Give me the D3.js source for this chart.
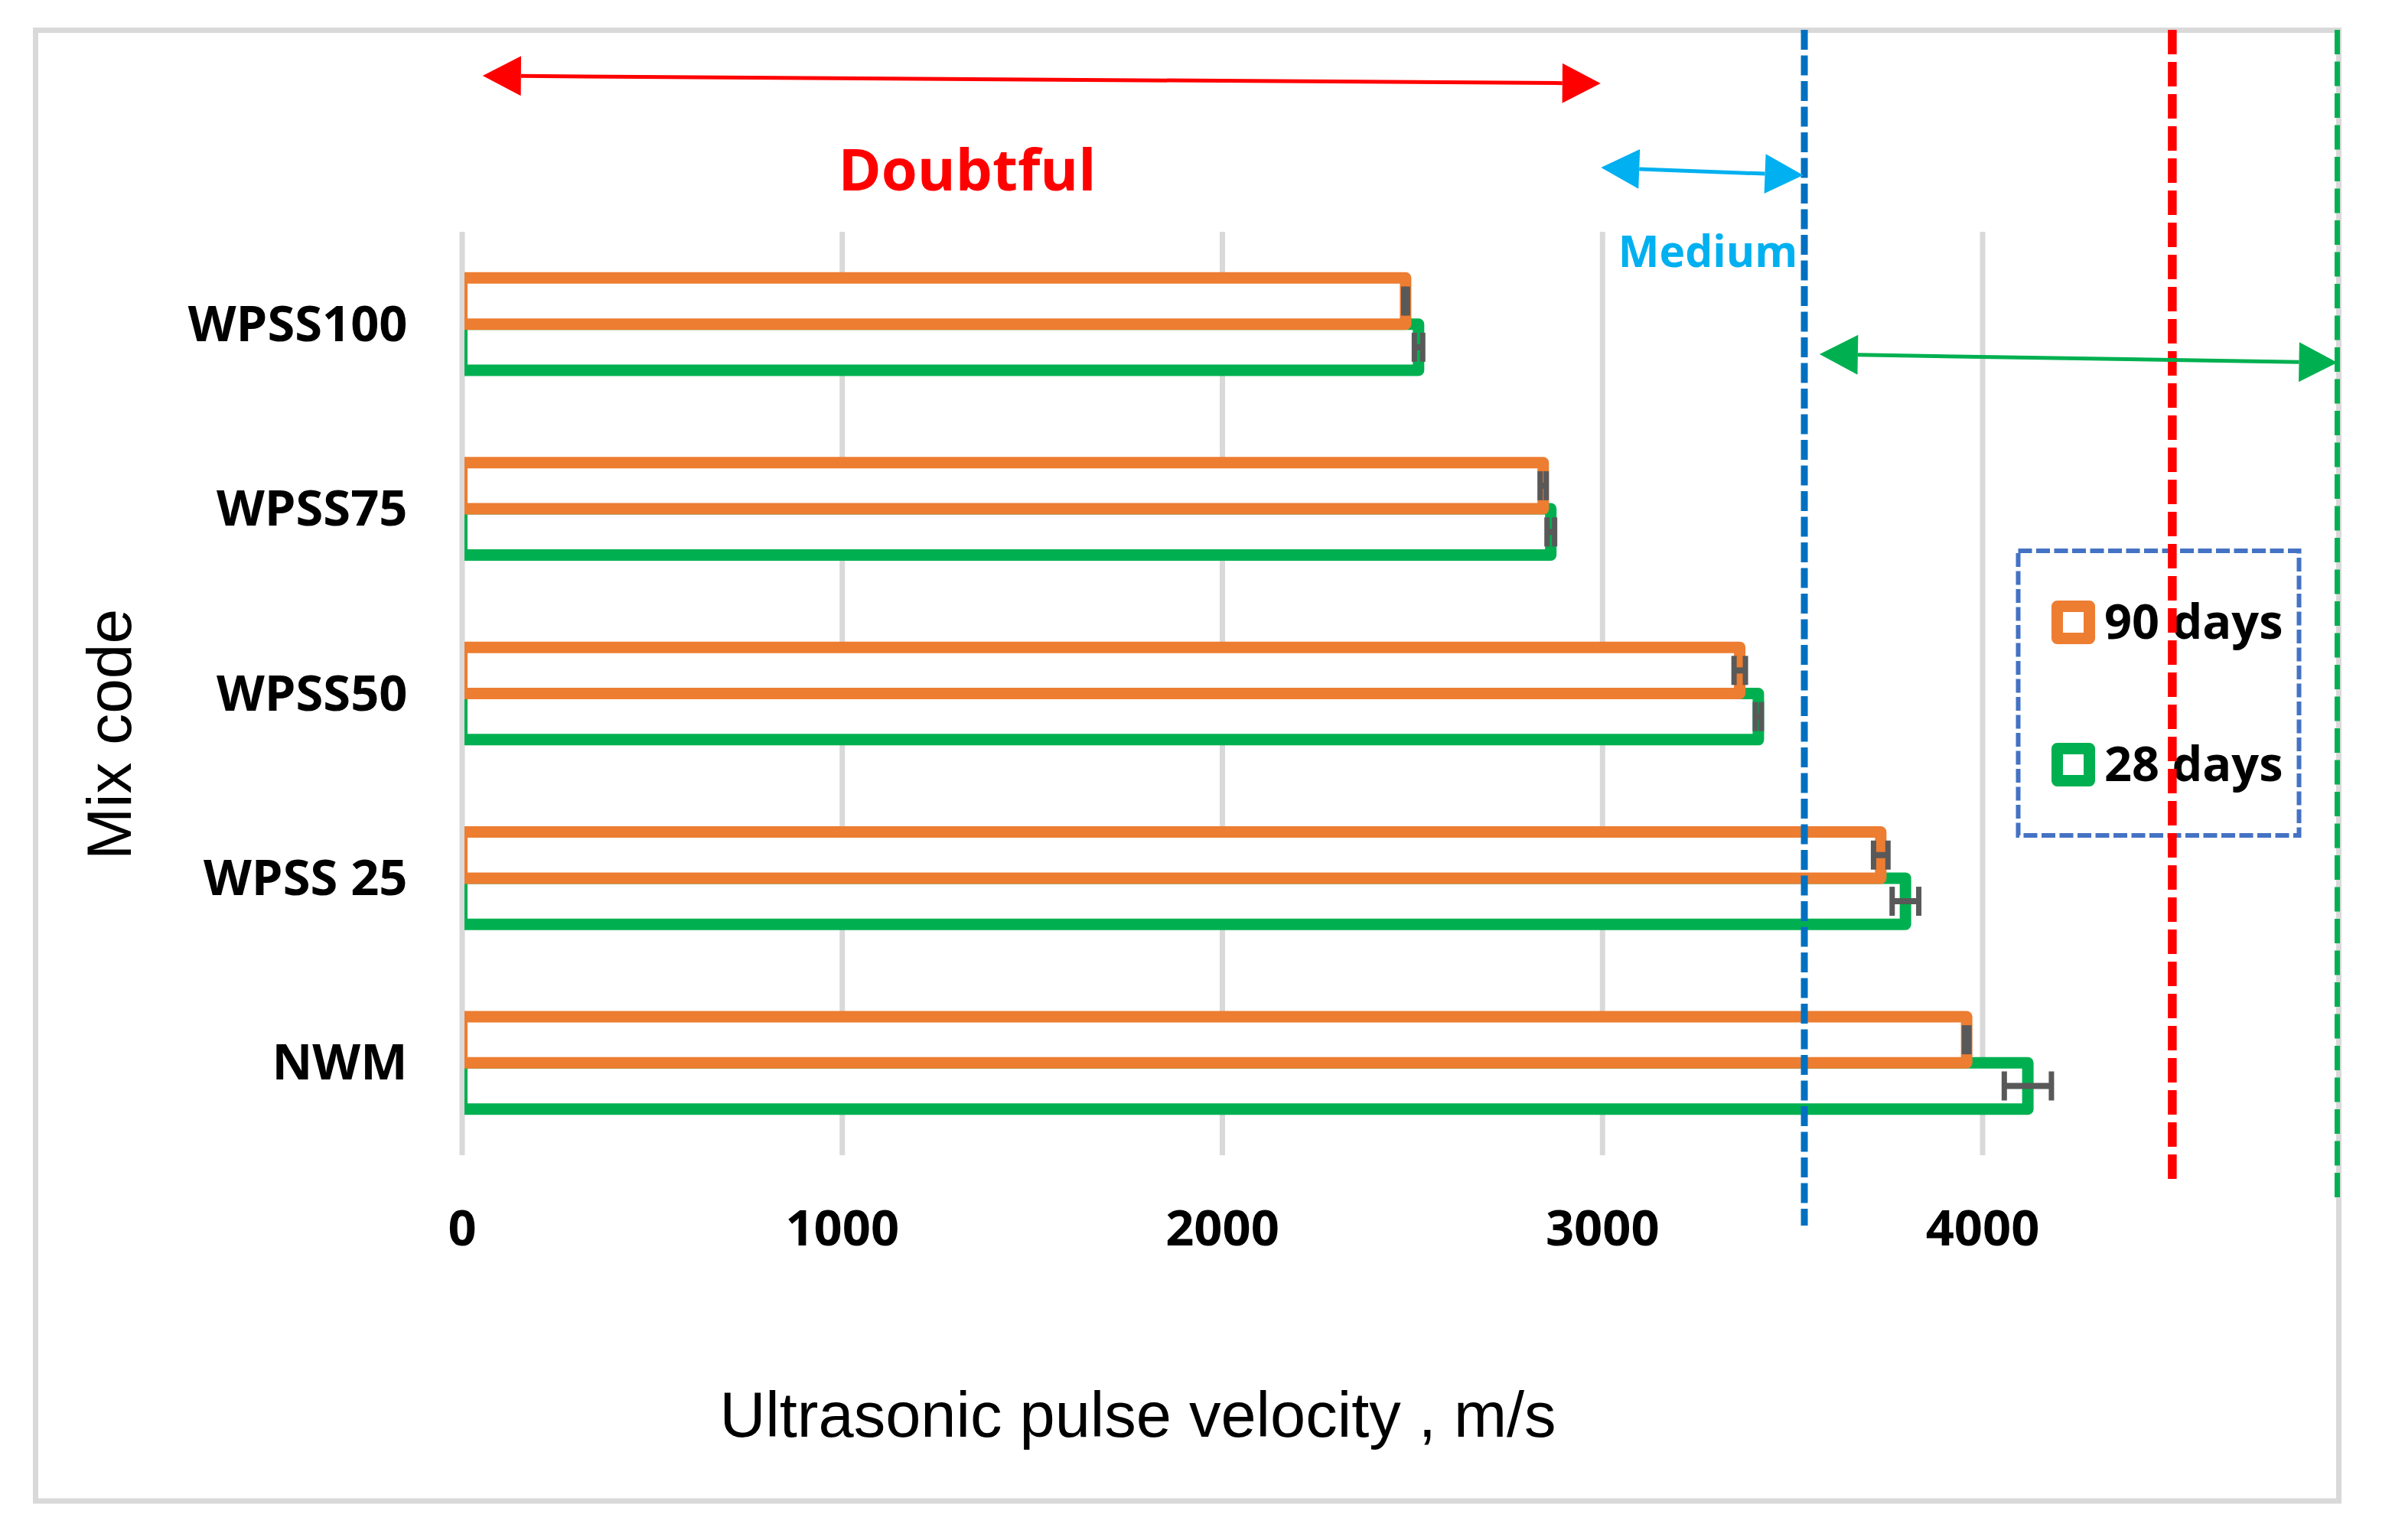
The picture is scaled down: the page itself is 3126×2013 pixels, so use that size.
<!DOCTYPE html>
<html>
<head>
<meta charset="utf-8">
<script src="https://cdn.jsdelivr.net/npm/d3@7"></script>
<style>
  html, body { margin: 0; padding: 0; background: #ffffff; }
  svg { display: block; }
</style>
</head>
<body>
<div id="chart"></div>
<script>
// ---------------- DATA ----------------
const categories = ["WPSS100", "WPSS75", "WPSS50", "WPSS 25", "NWM"];
const days90 = [2483, 2845, 3362, 3733, 3959];
const days90Err = [5, 8, 15, 19, 6];
const days28 = [2517, 2865, 3411, 3798, 4120];
const days28Err = [11, 10, 8, 35, 62];
const xTicks = [0, 1000, 2000, 3000, 4000];
const seriesNames = ["90 days", "28 days"];
const seriesColors = ["#ED7D31", "#00B050"];

// quality zones (arrows) and threshold lines, in m/s
const zoneLabels = ["Doubtful", "Medium", ""];
const zoneFrom = [55, 2997, 3572];
const zoneTo = [2996, 3529, 4934];
const zoneColors = ["#FF0000", "#00B0F0", "#00B050"];
const thresholdValues = [3532, 4500, 4934];
const thresholdColors = ["#0070C0", "#FF0000", "#00B050"];

const xTitle = "Ultrasonic pulse velocity , m/s";
const yTitle = "Mix code";

// ---------------- LAYOUT ----------------
const W = 3126, H = 2013;
const plotTop = 303, plotBottom = 1510;
const x0px = 603.5, perUnit = 0.49675;

const svg = d3.select("#chart").append("svg")
  .attr("width", W).attr("height", H)
  .attr("viewBox", `0 0 ${W} ${H}`);

// outer frame
svg.append("rect")
  .attr("x", 46.5).attr("y", 39.5)
  .attr("width", 3010).attr("height", 1922.5)
  .attr("fill", "#ffffff")
  .attr("stroke", "#D9D9D9").attr("stroke-width", 7);

const x = d3.scaleLinear().domain([0, 4500]).range([x0px, x0px + 4500 * perUnit]);
const y = d3.scaleBand().domain(categories).range([plotTop, plotBottom]).paddingInner(0).paddingOuter(0);
const bw = y.bandwidth();
const sub = d3.scaleBand().domain(seriesNames).range([bw * 0.25, bw * 0.75]).padding(0);

// gridlines
const grid = svg.append("g")
  .attr("transform", `translate(0,${plotBottom})`)
  .call(d3.axisBottom(x).tickValues(xTicks).tickSize(-(plotBottom - plotTop)).tickFormat(""));
grid.select(".domain").remove();
grid.selectAll(".tick line").attr("stroke", "#D9D9D9").attr("stroke-width", 7);

// x tick labels
const xAxis = svg.append("g")
  .attr("transform", `translate(0,${plotBottom})`)
  .call(d3.axisBottom(x).tickValues(xTicks).tickSize(0).tickFormat(d3.format("d")));
xAxis.select(".domain").remove();
xAxis.selectAll("text")
  .attr("y", 118).attr("dy", null)
  .attr("fill", "#000")
  .style("font-family", "'Open Sans', sans-serif")
  .style("font-weight", "bold")
  .style("font-size", "65px");

// y category labels
const yAxis = svg.append("g")
  .attr("transform", `translate(${x0px},0)`)
  .call(d3.axisLeft(y).tickSize(0).tickPadding(71));
yAxis.select(".domain").remove();
yAxis.selectAll("text")
  .attr("dy", "0.34em")
  .attr("fill", "#000")
  .style("font-family", "'Open Sans', sans-serif")
  .style("font-weight", "bold")
  .style("font-size", "65px");

// clip for bars (hides most of the left stroke, as in the original)
svg.append("clipPath").attr("id", "barclip")
  .append("rect")
  .attr("x", x(0) + 3.5).attr("y", 0)
  .attr("width", W).attr("height", H);

const rows = categories.map((c, i) => ({
  cat: c,
  series: [
    { name: seriesNames[0], v: days90[i], e: days90Err[i], color: seriesColors[0] },
    { name: seriesNames[1], v: days28[i], e: days28Err[i], color: seriesColors[1] }
  ]
}));

const barsG = svg.append("g").attr("clip-path", "url(#barclip)");
// draw 28 days first so 90 days sits on top
[1, 0].forEach(si => {
  barsG.selectAll(null)
    .data(rows)
    .enter().append("rect")
    .attr("x", x(0))
    .attr("y", d => y(d.cat) + sub(d.series[si].name))
    .attr("width", d => x(d.series[si].v) - x(0))
    .attr("height", sub.bandwidth())
    .attr("fill", "#ffffff")
    .attr("stroke", d => d.series[si].color)
    .attr("stroke-width", 15)
    .attr("stroke-linejoin", "round");
});

// error bars
const errG = svg.append("g");
const capLen = 38;
rows.forEach(d => {
  d.series.forEach(s => {
    const cy = y(d.cat) + sub(s.name) + sub.bandwidth() / 2;
    const xl = x(s.v - s.e), xr = x(s.v + s.e);
    errG.append("line")
      .attr("x1", xl).attr("x2", xr).attr("y1", cy).attr("y2", cy)
      .attr("stroke", "#595959").attr("stroke-width", 8);
    [xl, xr].forEach(xc => {
      errG.append("line")
        .attr("x1", xc).attr("x2", xc)
        .attr("y1", cy - capLen / 2).attr("y2", cy + capLen / 2)
        .attr("stroke", "#595959").attr("stroke-width", 7);
    });
  });
});

// legend
const lg = svg.append("g");
lg.append("rect")
  .attr("x", 2637.5).attr("y", 720).attr("width", 367).attr("height", 372)
  .attr("fill", "none").attr("stroke", "#4472C4").attr("stroke-width", 6)
  .attr("stroke-dasharray", "18 5.5");
const legendY = [813.5, 999.5];
seriesNames.forEach((n, i) => {
  lg.append("rect")
    .attr("x", 2709.5 - 21).attr("y", legendY[i] - 21)
    .attr("width", 42).attr("height", 42)
    .attr("fill", "#ffffff").attr("stroke", seriesColors[i])
    .attr("stroke-width", 15).attr("stroke-linejoin", "round");
  lg.append("text")
    .attr("x", 2750).attr("y", legendY[i] + 21.5)
    .attr("fill", "#000")
    .style("font-family", "'Open Sans', sans-serif")
    .style("font-weight", "bold")
    .style("font-size", "63px")
    .text(n);
});

// threshold dashed lines
const thrDash = ["26 7.5", "32 10", "32 9.5"];
const thrWidth = [9, 11.5, 7];
const thrEnd = [1602, 1544, 1571];
thresholdValues.forEach((v, i) => {
  svg.append("line")
    .attr("x1", x(v)).attr("x2", x(v))
    .attr("y1", 39).attr("y2", thrEnd[i])
    .attr("stroke", thresholdColors[i])
    .attr("stroke-width", thrWidth[i])
    .attr("stroke-dasharray", thrDash[i]);
});

// zone arrows
const arrowY = [[99, 109], [219, 229], [463, 474]];
function doubleArrow(g, xa, ya, xb, yb, color) {
  const L = 50, hw = 26;
  const dx = xb - xa, dy = yb - ya, len = Math.hypot(dx, dy);
  const ux = dx / len, uy = dy / len, nx = -uy, ny = ux;
  const ax = xa + ux * L, ay = ya + uy * L;
  const bx = xb - ux * L, by = yb - uy * L;
  g.append("line").attr("x1", ax).attr("y1", ay).attr("x2", bx).attr("y2", by)
    .attr("stroke", color).attr("stroke-width", 5);
  g.append("path")
    .attr("d", `M${xa},${ya}L${ax + nx * hw},${ay + ny * hw}L${ax - nx * hw},${ay - ny * hw}Z`)
    .attr("fill", color);
  g.append("path")
    .attr("d", `M${xb},${yb}L${bx + nx * hw},${by + ny * hw}L${bx - nx * hw},${by - ny * hw}Z`)
    .attr("fill", color);
}
const arrG = svg.append("g");
zoneFrom.forEach((f, i) => {
  doubleArrow(arrG, x(f), arrowY[i][0], x(zoneTo[i]), arrowY[i][1], zoneColors[i]);
});

// zone labels
svg.append("text")
  .attr("x", 1264).attr("y", 249)
  .attr("text-anchor", "middle")
  .attr("fill", zoneColors[0])
  .style("font-family", "'Open Sans', sans-serif")
  .style("font-weight", "bold")
  .style("font-size", "76px")
  .text(zoneLabels[0]);
svg.append("text")
  .attr("x", 2232).attr("y", 349)
  .attr("text-anchor", "middle")
  .attr("fill", zoneColors[1])
  .style("font-family", "'Open Sans', sans-serif")
  .style("font-weight", "bold")
  .style("font-size", "57px")
  .text(zoneLabels[1]);

// axis titles
svg.append("text")
  .attr("x", 1487).attr("y", 1878)
  .attr("text-anchor", "middle")
  .attr("fill", "#000")
  .style("font-family", "'Liberation Sans', Arial, sans-serif")
  .style("font-size", "83px")
  .text(xTitle);
svg.append("text")
  .attr("transform", "translate(171,960) rotate(-90)")
  .attr("text-anchor", "middle")
  .attr("fill", "#000")
  .style("font-family", "'Liberation Sans', Arial, sans-serif")
  .style("font-size", "82px")
  .text(yTitle);
</script>
</body>
</html>
